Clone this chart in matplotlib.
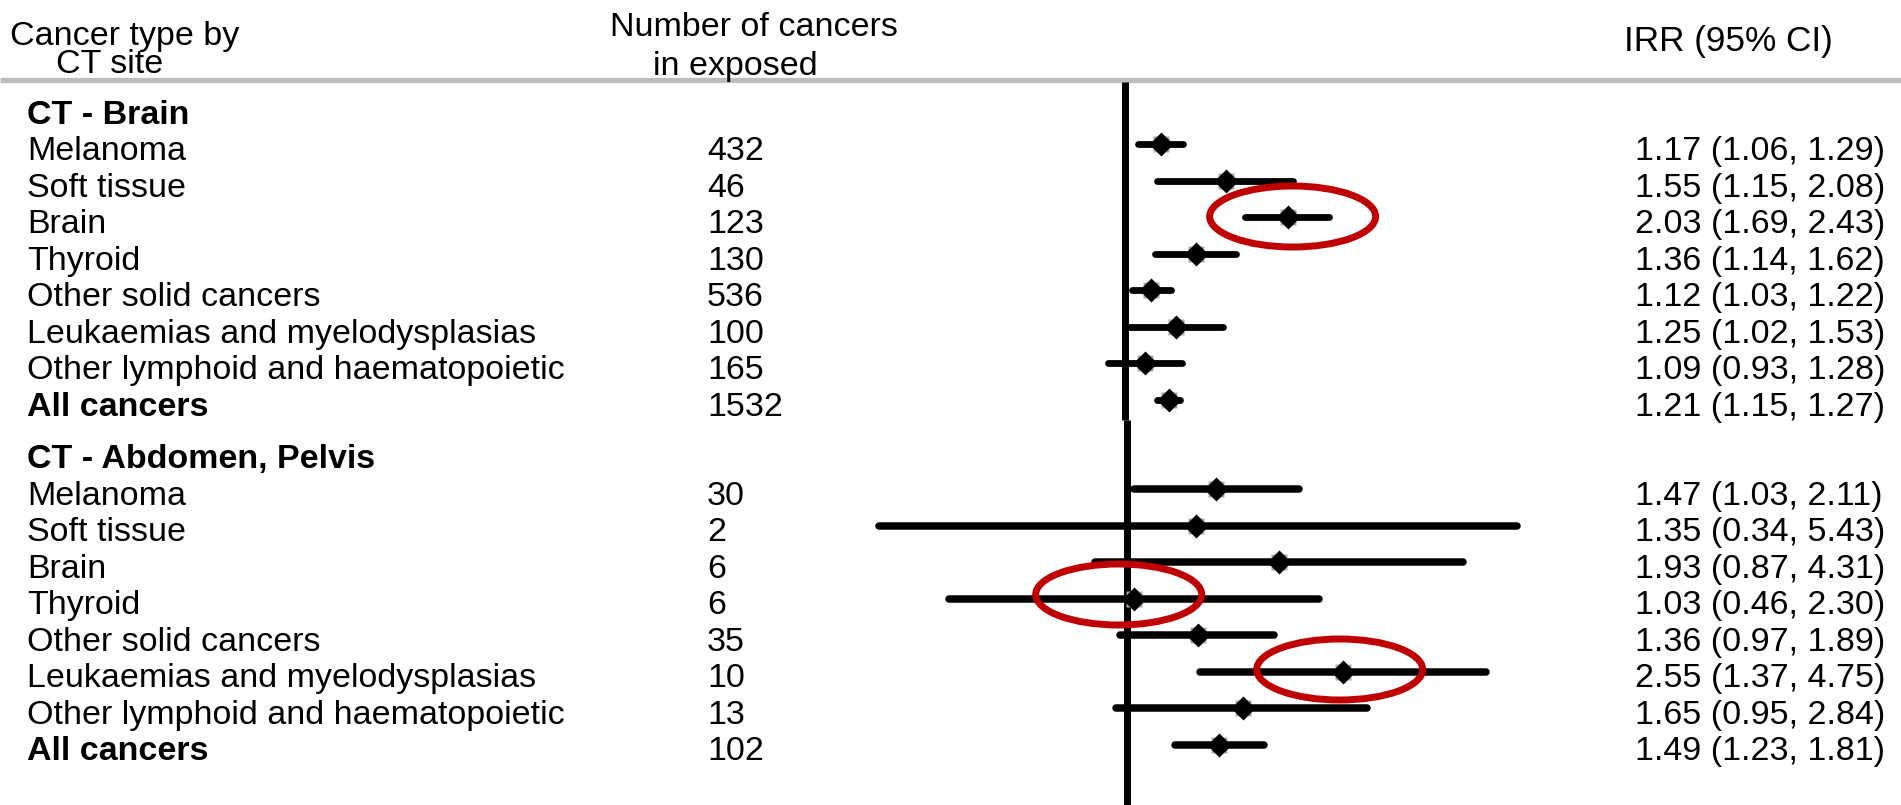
import numpy as np
import matplotlib
matplotlib.use("Agg")
import matplotlib.pyplot as plt
from matplotlib.patches import Ellipse
from matplotlib.transforms import ScaledTranslation

# ---------------- data ----------------
sites = ["CT - Brain", "CT - Abdomen, Pelvis"]
cancer_types = ["Melanoma", "Soft tissue", "Brain", "Thyroid",
                "Other solid cancers", "Leukaemias and myelodysplasias",
                "Other lymphoid and haematopoietic", "All cancers"]
brain_n = [432, 46, 123, 130, 536, 100, 165, 1532]
brain_irr = [1.17, 1.55, 2.03, 1.36, 1.12, 1.25, 1.09, 1.21]
brain_lo = [1.06, 1.15, 1.69, 1.14, 1.03, 1.02, 0.93, 1.15]
brain_hi = [1.29, 2.08, 2.43, 1.62, 1.22, 1.53, 1.28, 1.27]
abd_n = [30, 2, 6, 6, 35, 10, 13, 102]
abd_irr = [1.47, 1.35, 1.93, 1.03, 1.36, 2.55, 1.65, 1.49]
abd_lo = [1.03, 0.34, 0.87, 0.46, 0.97, 1.37, 0.95, 1.23]
abd_hi = [2.11, 5.43, 4.31, 2.30, 1.89, 4.75, 2.84, 1.81]
highlight_brain = ["Brain"]
highlight_abd = ["Thyroid", "Leukaemias and myelodysplasias"]
header_cols = ["Cancer type by\nCT site", "Number of cancers\nin exposed", "IRR (95% CI)"]

# ---------------- layout ----------------
W, H, DPI = 1901, 805, 100
FS = 24.5
FONT = "Liberation Sans"
plt.rcParams["font.family"] = [FONT, "DejaVu Sans"]

fig = plt.figure(figsize=(W / DPI, H / DPI), dpi=DPI)
ax = fig.add_axes([0, 0, 1, 1])
ax.set_xlim(0, W)
ax.set_ylim(H, 0)
ax.axis("off")

PX_PER_LN = 230.0
section_y0 = [108.0, 452.5]     # y of section header row (pixel from top)
section_x1 = [1124.8, 1127.4]   # pixel x of IRR = 1 in each panel
section_lw = [4.9, 5.4]
ROW = 36.5
TXT_DY = 15.5                   # baseline offset below row centre
rule_y = 80
split_y = 419.5

# header
ax.plot([0, W], [rule_y, rule_y], color="#bdbdbd", lw=3.8, solid_capstyle="butt", zorder=1)
h1, h2 = header_cols[0].split("\n")
ax.text(125, 45, h1, ha="center", va="baseline", fontsize=FS)
ax.text(110, 73, h2, ha="center", va="baseline", fontsize=FS)
n1, n2 = header_cols[1].split("\n")
ax.text(754, 36.5, n1, ha="center", va="baseline", fontsize=FS)
ax.text(735, 75.5, n2, ha="center", va="baseline", fontsize=FS)
ax.text(1624, 51, header_cols[2], ha="left", va="baseline", fontsize=FS + 0.8)

LBL_X, N_X, IRR_X = 27, 707, 1635

panels = [
    (brain_n, brain_irr, brain_lo, brain_hi, highlight_brain, [(5, -1)], (rule_y + 2, split_y)),
    (abd_n, abd_irr, abd_lo, abd_hi, highlight_abd, [(-15.5, -4), (-3, -2)], (split_y, H)),
]

for s, (nn, irr, lo, hi, hl, offs, (vy0, vy1)) in enumerate(panels):
    y0 = section_y0[s]
    a = section_x1[s]
    fax = fig.add_axes([0, 0, 1, 1])
    fax.set_xscale("log")
    fax.set_xlim(np.exp(-a / PX_PER_LN), np.exp((W - a) / PX_PER_LN))
    fax.set_ylim(H, 0)
    fax.axis("off")
    fax.patch.set_alpha(0)

    ax.text(LBL_X, y0 + TXT_DY, sites[s], ha="left", va="baseline",
            fontsize=FS, fontweight="bold")
    # reference line at IRR = 1
    fax.plot([1, 1], [vy0, vy1], color="black", lw=5.0, solid_capstyle="butt", zorder=2)

    ys = [y0 + ROW * (k + 1) for k in range(len(cancer_types))]
    for k, name in enumerate(cancer_types):
        y = ys[k]
        bold = name == "All cancers"
        ax.text(LBL_X, y + TXT_DY, name, ha="left", va="baseline", fontsize=FS,
                fontweight="bold" if bold else "normal")
        ax.text(N_X, y + TXT_DY, str(nn[k]), ha="left", va="baseline", fontsize=FS)
        ax.text(IRR_X, y + TXT_DY, f"{irr[k]:.2f} ({lo[k]:.2f}, {hi[k]:.2f})",
                ha="left", va="baseline", fontsize=FS)
        fax.plot([lo[k], hi[k]], [y, y], color="black", lw=section_lw[s],
                 solid_capstyle="round", zorder=3)
        fax.plot([irr[k]], [y], marker="s", ms=11.5, color="#a9a9a9",
                 mec="none", zorder=4)
        fax.plot([irr[k]], [y], marker="D", ms=12.5, color="black",
                 mec="none", zorder=5)

    for name, (dx, dy) in zip(hl, offs):
        k = cancer_types.index(name)
        tr = fig.dpi_scale_trans + ScaledTranslation(irr[k], ys[k], fax.transData)
        e = Ellipse((dx / DPI, -dy / DPI), 166 / DPI, 61 / DPI, transform=tr,
                    fill=False, edgecolor="#c00000", lw=5.0, zorder=6)
        fax.add_patch(e)

fig.savefig("out.png", dpi=DPI, facecolor="white")
